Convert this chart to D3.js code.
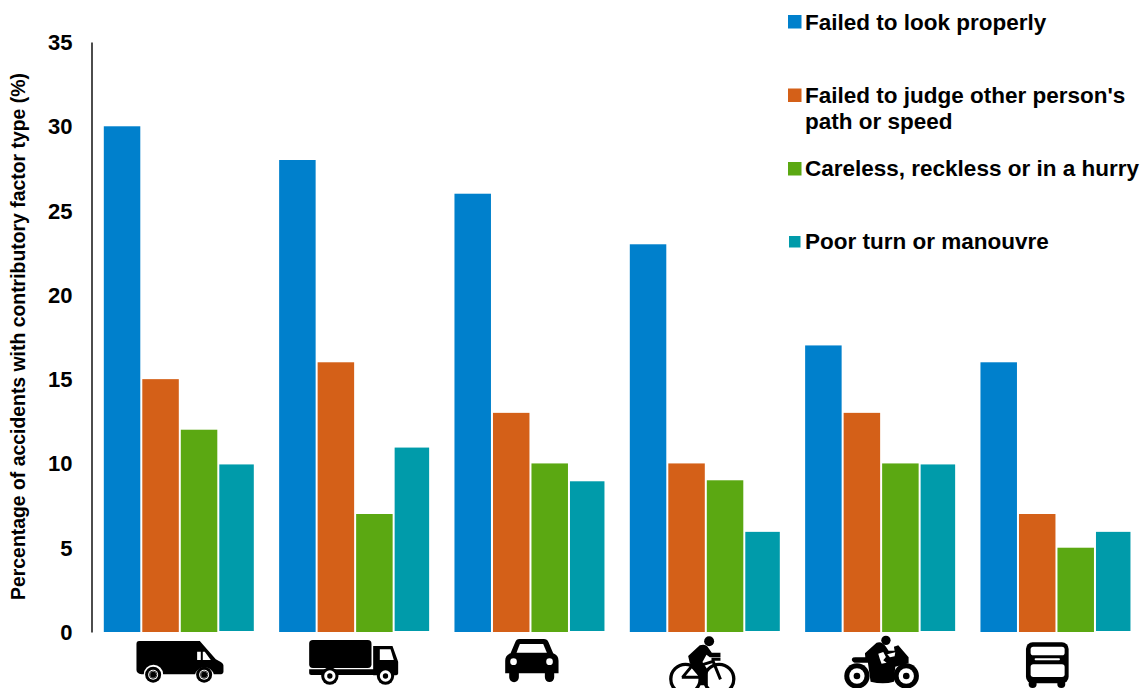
<!DOCTYPE html>
<html>
<head>
<meta charset="utf-8">
<script src="https://cdn.jsdelivr.net/npm/d3@7/dist/d3.min.js"></script>
<style>
  html, body { margin: 0; padding: 0; background: #fff; }
  svg { display: block; }
  text { font-family: "Liberation Sans", Arial, sans-serif; font-weight: 700; fill: #000; }
</style>
</head>
<body>
<svg id="chart" width="1141" height="688"></svg>
<script>
// Road user types, one group of bars each; drawn as pictograms under the axis
const vehicles = ["van", "truck", "car", "bicycle", "motorcycle", "bus"];
const factors = ["look", "judge", "careless", "turn"];
const factorColors = ["#0080CC", "#D46018", "#5BA812", "#009BAA"];
const yTicks = [0, 5, 10, 15, 20, 25, 30, 35];

// Percentage of accidents per vehicle type
const failedToLook = [30, 28, 26, 23, 17, 16];
const failedToJudge = [15, 16, 13, 10, 13, 7];
const careless = [12, 7, 10, 9, 10, 5];
const poorTurn = [10, 11, 9, 6, 10, 6];
const seriesValues = [failedToLook, failedToJudge, careless, poorTurn];

const legendLabels = [
  ["Failed to look properly"],
  ["Failed to judge other person's", "path or speed"],
  ["Careless, reckless or in a hurry"],
  ["Poor turn or manouvre"]
];
const yTitle = "Percentage of accidents with contributory factor type (%)";

const svg = d3.select("#chart");

const y = d3.scaleLinear().domain([0, 35]).range([632, 42]);
const x0 = d3.scaleBand().domain(vehicles).range([103.8, 1155.8]);
const x1 = d3.scaleBand().domain(factors).range([0, 152]).paddingInner(0.052);

// Value axis: a plain line with bold labels and no tick marks
const axis = svg.append("g")
  .attr("transform", "translate(91.5,0)")
  .call(d3.axisLeft(y).tickValues(yTicks).tickSize(0).tickPadding(19));
axis.select(".domain").attr("stroke", "#000").attr("stroke-width", 1.4);
axis.selectAll("text")
  .style("font-size", "22px")
  .style("font-family", '"Liberation Sans", Arial, sans-serif')
  .style("font-weight", 700)
  .attr("fill", "#000");
axis.selectAll(".tick text").attr("transform", "translate(0,0.5)");

svg.append("text")
  .attr("transform", "translate(24.5,336.5) rotate(-90)")
  .attr("text-anchor", "middle")
  .style("font-size", "19.4px")
  .text(yTitle);

// Bars; the last series sits slightly inset from its band
factors.forEach((f, s) => {
  const inset = f === "turn" ? 1 : 0;
  svg.append("g").selectAll("rect")
    .data(seriesValues[s])
    .join("rect")
    .attr("x", (d, i) => x0(vehicles[i]) + x1(f))
    .attr("y", d => y(d) + inset)
    .attr("width", f === "turn" ? 34.5 : x1.bandwidth())
    .attr("height", d => y(0) - y(d) - 2 * inset)
    .attr("fill", factorColors[s]);
});

// Legend
const legendTop = [15, 88.5, 162, 236];
const legendBase = [[30], [103, 129], [176], [249]];
const legend = svg.append("g");
factors.forEach((f, s) => {
  const size = f === "turn" ? 11.5 : 13.5;
  legend.append("rect")
    .attr("x", f === "turn" ? 789 : 788)
    .attr("y", legendTop[s])
    .attr("width", size)
    .attr("height", size)
    .attr("fill", factorColors[s]);
  legendLabels[s].forEach((line, k) => {
    legend.append("text")
      .attr("x", 805)
      .attr("y", legendBase[s][k])
      .style("font-size", "22.5px")
      .text(line);
  });
});

// Pictograms, authored on a 3x grid and scaled down to the plot
const icons = {
  van(g) {
    g.append("path").attr("d", "M148,63H330L378,118L393,126Q402,131 401,140V155Q400,163 390,163H372A29,29 0 0 0 316,163H220A29,29 0 0 0 162,163H155Q140,160 140,150V72Q140,63 148,63Z");
    [190, 343].forEach(cx => wheel(g, cx, 164, 24, 15, 9, 2.5));
    g.append("path").attr("fill", "#fff").attr("d", "M322,95H333V120H322ZM339,95H345L363,120H339Z");
  },
  truck(g) {
    g.append("rect").attr("x", 658).attr("y", 60).attr("width", 187).attr("height", 84).attr("rx", 11);
    g.append("path").attr("d", "M850,78H908L925,125V160Q925,166 915,166H850ZM658,148H860V165H664Q658,165 658,160Z");
    g.append("path").attr("fill", "#fff").attr("d", "M870,88H902L912,120H870Z");
    [720, 887].forEach(cx => wheel(g, cx, 168, 26, 17, 8, 0));
  },
  car(g) {
    g.append("path").attr("d", "M118,57H192Q202,57 206,67L220,100Q236,106 236,122V160H223V172A14,14 0 0 1 195,172V160H117V172A14,14 0 0 1 88,172V160H76V122Q76,106 92,100L106,67Q110,57 118,57Z");
    g.append("path").attr("fill", "#fff").attr("d", "M120,72H190L201,98H110Z");
    g.append("circle").attr("cx", 101).attr("cy", 125).attr("r", 10).attr("fill", "#fff");
    g.append("circle").attr("cx", 209).attr("cy", 125).attr("r", 10).attr("fill", "#fff");
  },
  bicycle(g) {
    [617, 718].forEach(cx => g.append("circle").attr("cx", cx).attr("cy", 177).attr("r", 44)
      .attr("fill", "none").attr("stroke", "#000").attr("stroke-width", 10));
    g.append("circle").attr("cx", 688).attr("cy", 64).attr("r", 15);
    g.append("path").attr("d", "M625,108L660,76Q678,70 686,84L696,98H722V112H690L680,104L668,126L684,150V196H660V162L630,130Z");
    g.append("path").attr("fill", "none").attr("stroke", "#000").attr("stroke-width", 9)
      .attr("d", "M606,172H665L636,138L608,172M650,140L700,124L722,178M695,118H722");
  },
  motorcycle(g) {
    [81, 229].forEach(cx => wheel(g, cx, 168, 38, 23, 10, 0));
    g.append("circle").attr("cx", 168).attr("cy", 61).attr("r", 14);
    g.append("path").attr("d", "M105,100L140,68Q156,62 168,80L176,92H194L192,80L205,76L236,112L236,130L196,140L192,185Q160,195 122,185L114,128H74Q64,124 66,116Q68,112 76,112H106Z");
    g.append("path").attr("fill", "#fff").attr("d", "M145,101L160,96L168,111L160,121L170,128L155,131L150,118Z");
    g.append("path").attr("fill", "#fff").attr("d", "M172,103L196,97L194,109L180,112Z");
  },
  bus(g) {
    g.append("rect").attr("x", 588).attr("y", 67).attr("width", 128).attr("height", 123).attr("rx", 20);
    [608, 694].forEach(cx => g.append("circle").attr("cx", cx).attr("cy", 192).attr("r", 12));
    g.append("rect").attr("x", 602).attr("y", 80).attr("width", 102).attr("height", 26).attr("rx", 8).attr("fill", "#fff");
    g.append("rect").attr("x", 614).attr("y", 115).attr("width", 76).attr("height", 6).attr("rx", 3).attr("fill", "#fff");
    g.append("rect").attr("x", 602).attr("y", 133).attr("width", 102).attr("height", 38).attr("rx", 8).attr("fill", "#fff");
  }
};

function wheel(g, cx, cy, outer, ring, hub, rim) {
  g.append("circle").attr("cx", cx).attr("cy", cy).attr("r", outer);
  g.append("circle").attr("cx", cx).attr("cy", cy).attr("r", ring).attr("fill", "#fff");
  g.append("circle").attr("cx", cx).attr("cy", cy).attr("r", hub);
  if (rim) g.append("circle").attr("cx", cx).attr("cy", cy).attr("r", ring - rim - 1.5)
    .attr("fill", "none").attr("stroke", "#000").attr("stroke-width", rim);
}

// Grid origin of each pictogram relative to its vehicle group
const iconOrigin = {
  van: [90 - 104, 620],
  truck: [90 - 279.3, 620],
  car: [480 - 454.6, 620],
  bicycle: [480 - 630, 620],
  motorcycle: [830 - 805.2, 620],
  bus: [830 - 980.5, 620]
};
vehicles.forEach(v => {
  const [ox, oy] = iconOrigin[v];
  const g = svg.append("g")
    .attr("transform", `translate(${x0(v) + ox},${oy}) scale(${1 / 3})`)
    .attr("fill", "#000");
  icons[v](g);
});
</script>
</body>
</html>
